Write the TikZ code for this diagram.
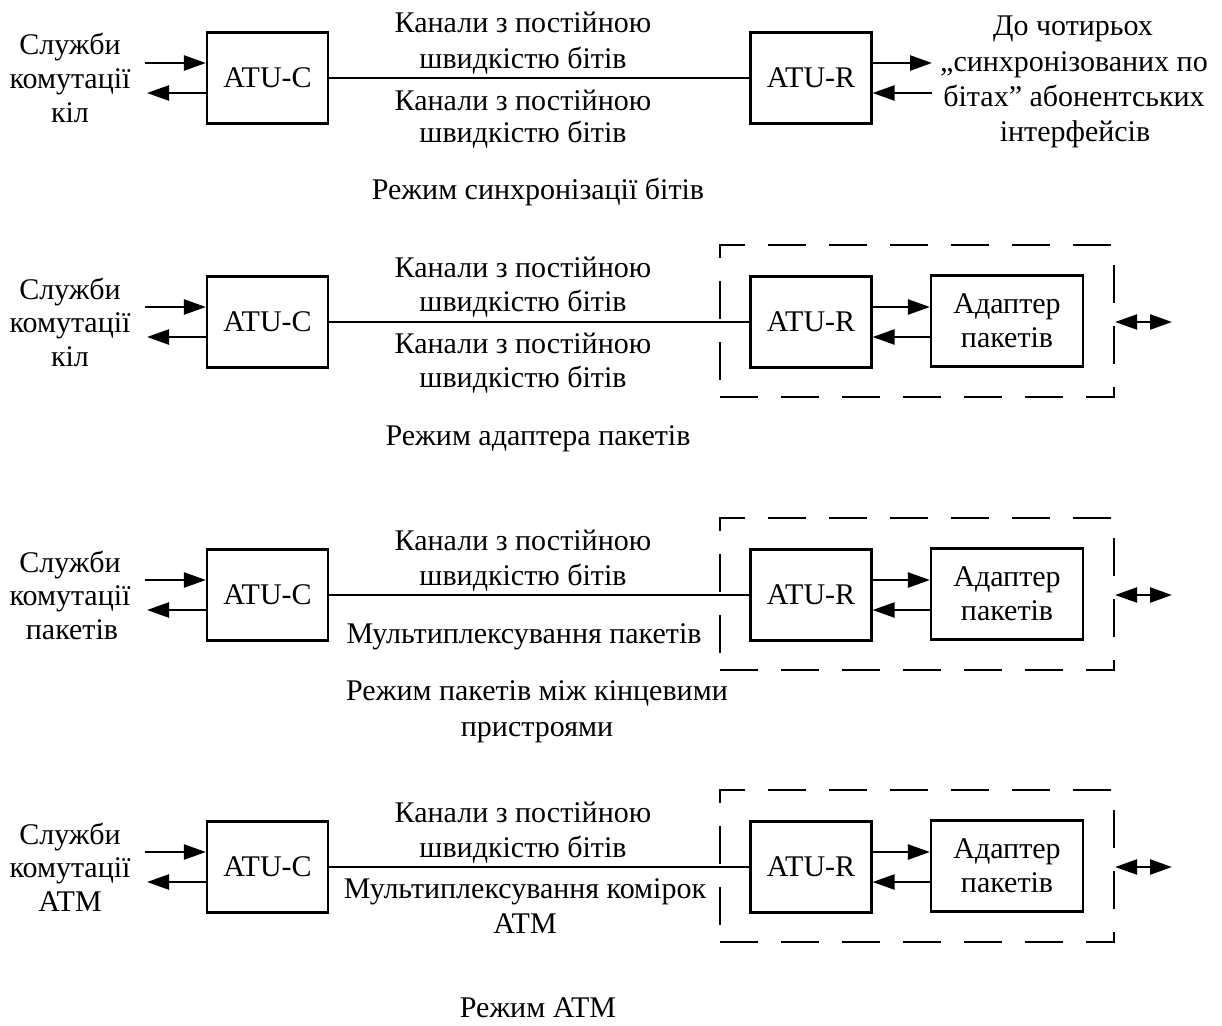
\documentclass[tikz,border=0pt]{standalone}
\usepackage{fontspec}
\setmainfont{Liberation Serif}
\usetikzlibrary{arrows.meta}
\tikzset{
  blk/.style={draw, line width=2.2pt, minimum width=121pt, minimum height=91pt, inner sep=0pt, font=\fontsize{30}{34}\selectfont},
  adp/.style={blk, minimum width=152pt, minimum height=91pt, align=center},
  dbox/.style={draw, line width=2.2pt, dash pattern=on 38pt off 23pt, minimum width=394pt, minimum height=152pt, inner sep=0pt},
  arr/.style={line width=2.5pt, -{Triangle[length=22pt,width=15pt]}},
  darr/.style={line width=2.5pt, {Triangle[length=22pt,width=15pt]}-{Triangle[length=22pt,width=15pt]}},
  ln/.style={line width=2.2pt},
  txt/.style={inner sep=0pt, anchor=base, font=\fontsize{30}{34}\selectfont}
}
\begin{document}
\begin{tikzpicture}[x=1pt,y=-1pt]
\useasboundingbox (0,0) rectangle (1222,1025);
\fill[white] (0,0) rectangle (1222,1025);

\foreach \r/\cy in {1/78,2/322,3/595,4/867} {
  \node[blk] (c\r) at (267.5,\cy) {ATU-C};
  \node[blk] (r\r) at (811,\cy) {ATU-R};
  \coordinate (li\r) at (145,\cy-15);
  \coordinate (lo\r) at (147,\cy+15);
  \draw[arr] (li\r) -- (li\r -| c\r.west);
  \draw[arr] (lo\r -| c\r.west) -- (lo\r);
  \draw[ln] (c\r) -- (r\r);
}

% row 1 right arrows
\coordinate (ro1) at (932,63);
\coordinate (ri1) at (932,93);
\draw[arr] (ro1 -| r1.east) -- (ro1);
\draw[arr] (ri1) -- (ri1 -| r1.east);

% rows 2-4 adapter part
\foreach \r/\cy in {2/322,3/595,4/867} {
  \node[adp] (a\r) at (1007,\cy-1) {Адаптер\\пакетів};
  \node[dbox] (d\r) at (917,\cy-1) {};
  \coordinate (u\r) at (900,\cy-15);
  \coordinate (v\r) at (900,\cy+15);
  \draw[arr] (u\r -| r\r.east) -- (u\r -| a\r.west);
  \draw[arr] (v\r -| a\r.west) -- (v\r -| r\r.east);
  \coordinate (e\r) at (1172,\cy);
  \draw[darr] (e\r -| d\r.east) -- (e\r);
}

% row 1 texts
\node[txt] (l1a) at (70,55) {Служби};
\node[txt] (l1b) at (70,88) {комутації};
\node[txt] (l1c) at (70,122) {кіл};
\node[txt] (t1a) at (523,33) {Канали з постійною};
\node[txt] (t1b) at (523,68) {швидкістю бітів};
\node[txt] (t1c) at (523,110) {Канали з постійною};
\node[txt] (t1d) at (523,142) {швидкістю бітів};
\node[txt] (q1a) at (1073,36) {До чотирьох};
\node[txt] (q1b) at (1074,71) {„синхронізованих по};
\node[txt] (q1c) at (1074,106) {бітах” абонентських};
\node[txt] (q1d) at (1075,141) {інтерфейсів};
\node[txt] (m1) at (538,199) {Режим синхронізації бітів};

% row 2 texts
\node[txt] (l2a) at (70,299) {Служби};
\node[txt] (l2b) at (70,332) {комутації};
\node[txt] (l2c) at (70,366) {кіл};
\node[txt] (t2a) at (523,277) {Канали з постійною};
\node[txt] (t2b) at (523,311) {швидкістю бітів};
\node[txt] (t2c) at (523,353) {Канали з постійною};
\node[txt] (t2d) at (523,387) {швидкістю бітів};
\node[txt] (m2) at (538,445) {Режим адаптера пакетів};

% row 3 texts
\node[txt] (l3a) at (70,572) {Служби};
\node[txt] (l3b) at (70,605) {комутації};
\node[txt] (l3c) at (72,639) {пакетів};
\node[txt] (t3a) at (523,550) {Канали з постійною};
\node[txt] (t3b) at (523,585) {швидкістю бітів};
\node[txt] (t3c) at (524,643) {Мультиплексування пакетів};
\node[txt] (m3a) at (537,700) {Режим пакетів між кінцевими};
\node[txt] (m3b) at (537,736) {пристроями};

% row 4 texts
\node[txt] (l4a) at (70,844) {Служби};
\node[txt] (l4b) at (70,877) {комутації};
\node[txt] (l4c) at (70,911) {ATM};
\node[txt] (t4a) at (523,822) {Канали з постійною};
\node[txt] (t4b) at (523,857) {швидкістю бітів};
\node[txt] (t4c) at (525,898) {Мультиплексування комірок};
\node[txt] (t4d) at (525,933) {ATM};
\node[txt] (m4) at (538,1017) {Режим ATM};
\end{tikzpicture}
\end{document}
